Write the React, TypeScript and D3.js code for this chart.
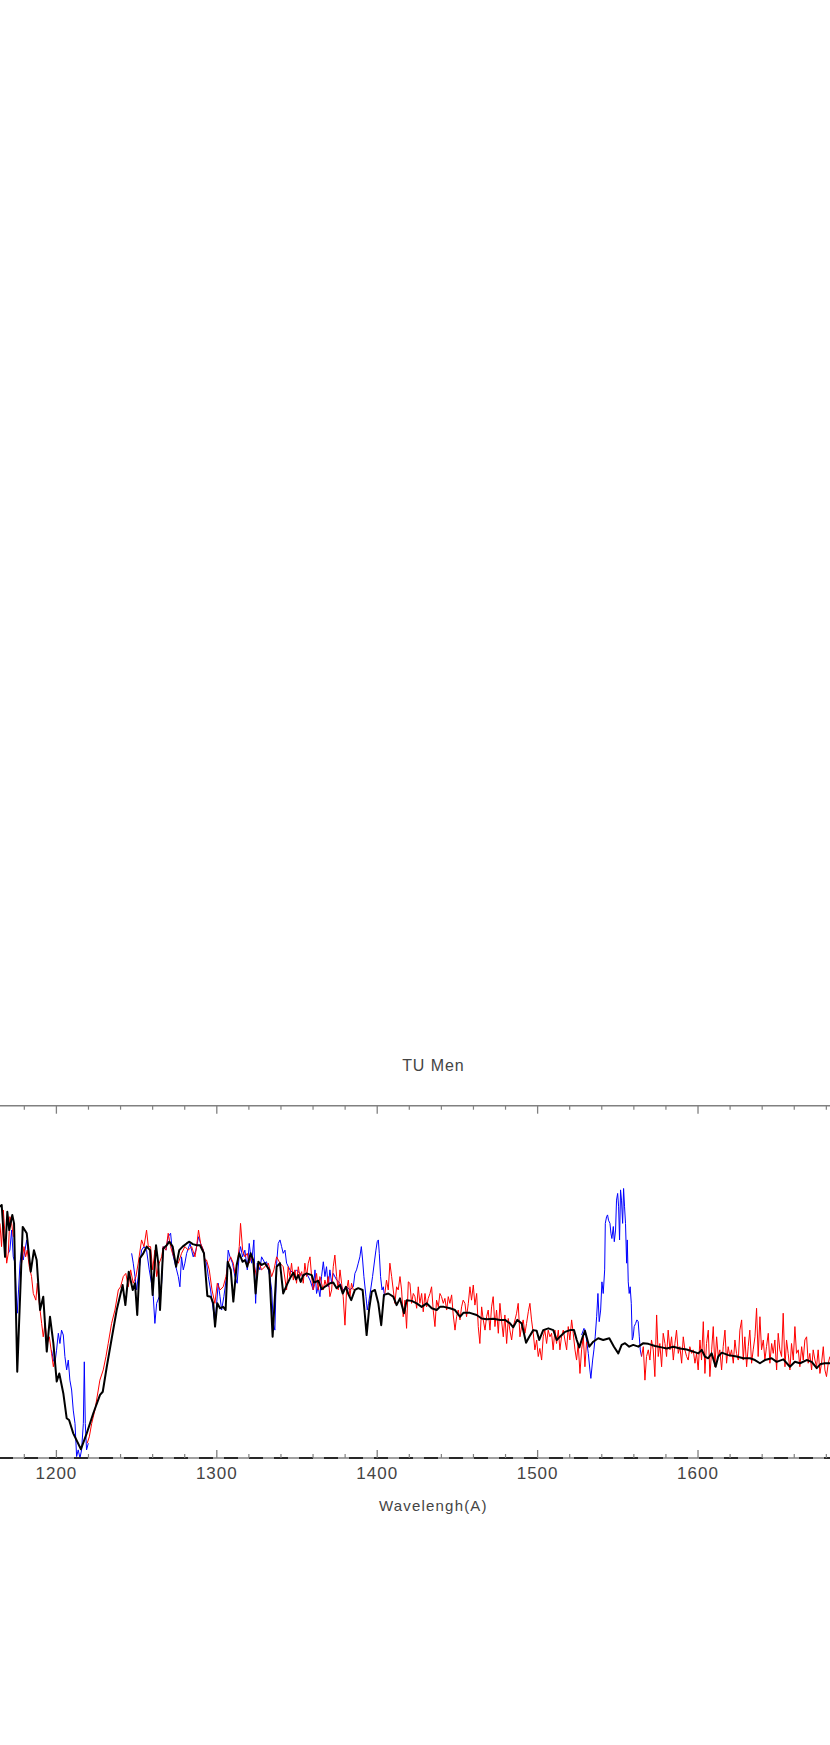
import React from "react";
import * as d3 from "d3";

// ---------- data (wavelength Å, flux in arbitrary units; plot y-range 0..10) ----------
const titleText = "TU Men";
const xTitle = "Wavelengh(A)";
const xDomain: [number, number] = [1150, 1720];
const yDomain: [number, number] = [0, 10];
const majorTickValues = [1200, 1300, 1400, 1500, 1600, 1700];
const tickLabels = [1200, 1300, 1400, 1500, 1600];

// smoothed model (black)
const modelSpectrum: [number, number][] = [
  [1164.8,7.13],[1165.9,7.18],[1168.0,5.71],[1169.4,6.99],[1170.6,6.47],[1172.5,6.90],[1173.6,6.66],[1175.6,2.45],[1179.0,6.56],[1181.5,6.38],[1184.0,5.29],[1186.0,5.90],[1187.7,5.62],[1189.8,4.20],[1191.8,4.58],[1194.0,3.02],[1196.0,4.01],[1198.1,3.26],[1200.2,2.17],[1201.8,2.40],[1204.3,1.84],[1206.4,1.13],[1207.9,1.08],[1210.5,0.70],[1215.3,0.25],[1218.9,0.70],[1223.0,1.27],[1227.2,1.79],[1228.9,1.88],[1231.4,2.59],[1234.5,3.40],[1237.6,4.20],[1241.3,4.91],[1243.0,4.34],[1245.1,5.29],[1247.6,4.77],[1249.0,4.96],[1250.4,4.06],[1252.1,5.67],[1254.2,5.81],[1256.3,6.00],[1258.4,5.90],[1260.0,4.63],[1262.1,6.04],[1263.5,5.53],[1264.6,4.20],[1266.6,5.95],[1268.8,6.04],[1270.4,6.14],[1272.5,6.00],[1274.6,5.43],[1276.6,5.90],[1278.7,6.00],[1281.2,6.09],[1282.9,6.14],[1285.0,6.07],[1287.5,6.04],[1289.5,6.04],[1292.0,5.81],[1294.1,4.60],[1296.2,4.58],[1297.8,4.39],[1298.9,3.73],[1300.3,4.39],[1302.0,4.25],[1304.0,4.29],[1305.5,4.20],[1306.8,5.57],[1308.7,5.34],[1310.3,4.44],[1312.4,5.48],[1314.0,5.81],[1316.1,5.57],[1317.6,5.62],[1319.0,5.43],[1321.1,5.81],[1322.7,5.62],[1324.2,4.67],[1325.9,5.57],[1328.0,5.48],[1330.0,5.53],[1332.7,5.34],[1334.8,3.44],[1337.3,5.43],
  [1339.4,5.53],[1341.4,4.67],[1343.6,4.91],[1345.6,5.10],[1347.7,5.26],[1349.4,5.07],[1350.8,5.19],[1352.3,5.00],[1353.9,5.19],[1356.0,5.24],[1359.2,5.19],[1360.6,4.98],[1363.3,5.03],[1365.4,4.79],[1367.4,4.86],[1370.6,4.96],[1372.6,4.98],[1374.7,4.82],[1376.8,4.91],[1378.5,4.67],[1380.5,4.86],[1382.0,4.65],[1383.8,4.48],[1386.1,4.77],[1388.2,4.82],[1390.9,4.77],[1392.4,4.01],[1393.4,3.49],[1394.9,4.20],[1396.6,4.72],[1398.6,4.77],[1400.7,4.39],[1402.5,3.77],[1404.2,4.63],[1406.9,4.67],[1410.0,4.58],[1412.1,4.34],[1414.2,4.53],[1416.7,4.11],[1418.4,4.48],[1421.5,4.46],[1424.6,4.39],[1427.7,4.29],[1430.8,4.39],[1434.0,4.25],[1437.1,4.20],[1439.1,4.29],[1441.6,4.29],[1445.4,4.25],[1448.5,4.20],[1451.6,4.01],[1453.7,4.12],[1457.8,4.12],[1462.0,4.06],[1465.1,3.96],[1468.3,3.94],[1472.4,3.95],[1476.5,3.92],[1479.7,3.92],[1482.8,3.82],[1484.8,3.71],[1487.3,3.92],[1490.1,3.82],[1492.8,3.27],[1494.8,3.44],[1497.3,3.63],[1499.4,3.61],[1501.0,3.35],[1503.5,3.63],[1506.7,3.68],
  [1509.8,3.63],[1511.9,3.35],[1513.9,3.44],[1517.1,3.58],[1520.2,3.63],[1522.7,3.63],[1524.4,3.35],[1526.0,3.14],[1528.1,3.44],[1529.5,3.61],[1532.2,3.16],[1534.7,3.30],[1537.8,3.40],[1540.9,3.35],[1544.7,3.40],[1547.6,3.16],[1550.3,2.97],[1552.4,3.21],[1554.5,3.26],[1557.1,3.16],[1559.6,3.21],[1562.8,3.16],[1565.9,3.26],[1569.0,3.24],[1573.2,3.18],[1577.3,3.14],[1580.5,3.11],[1584.6,3.16],[1588.8,3.11],[1592.9,3.08],[1597.0,3.02],[1600.2,2.97],[1602.3,3.07],[1604.3,2.88],[1606.4,2.83],[1608.5,2.97],[1611.0,2.59],[1612.6,2.88],[1614.8,2.99],[1618.9,2.92],[1624.1,2.88],[1628.2,2.83],[1632.4,2.83],[1635.5,2.78],[1638.6,2.69],[1641.7,2.78],[1645.9,2.83],[1649.0,2.73],[1653.2,2.80],[1657.3,2.59],[1660.4,2.73],[1663.6,2.69],[1667.7,2.78],[1670.9,2.73],[1674.0,2.55],[1676.5,2.67],[1679.1,2.69],[1682.3,2.69],
];

// observed spectrum (red); null marks a gap
const redSpectrum: [number, number | null][] = [
  [1164.8,6.66],[1165.8,6.00],[1166.9,7.04],[1167.9,6.38],[1169.0,5.53],[1170.0,5.81],[1171.0,6.85],[1172.1,6.66],[1173.1,6.28],[1175.0,null],
  [1177.7,5.34],[1178.9,5.71],[1179.8,6.00],[1180.8,5.71],[1181.8,5.90],[1183.1,5.43],[1184.5,5.15],[1185.6,4.67],[1187.2,4.48],[1188.1,4.96],[1189.3,4.39],[1190.8,3.82],[1191.8,3.44],[1192.9,3.82],[1194.3,3.25],[1195.6,3.44],[1197.0,2.97],[1198.1,2.59],[1199.1,2.88],[1210.0,null],
  [1219.2,0.42],[1220.5,0.60],[1222.0,0.98],[1224.0,1.36],[1226.1,1.93],[1227.1,2.21],[1229.2,2.50],[1230.9,2.88],[1232.3,3.25],[1234.4,3.82],[1236.5,4.20],[1238.6,4.77],[1240.0,4.86],[1241.7,5.15],[1243.3,5.24],[1244.8,4.86],[1246.3,5.34],[1247.9,4.96],[1249.6,5.15],[1251.0,5.53],[1253.1,6.19],[1254.6,6.00],[1256.2,6.47],[1257.3,6.00],[1258.7,6.00],[1260.0,5.34],[1261.4,5.90],[1262.5,5.15],[1264.1,5.53],[1265.6,5.71],[1266.6,6.00],[1268.3,5.90],[1269.7,6.38],[1271.2,6.00],[1272.4,5.81],[1273.9,5.62],[1276.0,5.53],[1278.0,5.81],[1280.1,6.00],[1282.2,5.90],[1284.3,6.00],[1286.4,5.71],[1287.4,6.00],[1288.6,6.47],[1289.9,6.09],[1291.6,5.90],[1292.6,5.62],
  [1293.6,5.62],[1295.3,5.34],[1297.0,4.77],[1298.8,4.39],[1300.3,4.96],[1302.0,4.77],[1304.0,4.86],[1305.7,5.15],[1307.1,5.53],[1308.6,5.71],[1310.3,5.53],[1311.3,5.24],[1312.8,5.53],[1314.0,6.00],[1314.8,6.66],[1316.1,5.90],[1317.5,5.71],[1319.0,5.81],[1320.2,5.53],[1321.7,5.71],[1323.1,5.53],[1324.8,5.15],[1326.5,5.53],[1327.9,5.34],[1330.0,5.43],[1332.1,5.53],[1334.2,5.15],[1335.6,5.34],[1337.3,5.71],[1339.4,5.53],[1341.4,5.43],
  [1343.5,4.77],[1344.5,5.43],[1345.6,5.15],[1346.6,5.53],[1347.7,5.05],[1348.7,5.34],[1349.7,4.96],[1350.8,5.43],[1351.8,5.15],[1352.9,5.29],[1353.9,4.96],[1354.9,5.53],[1356.0,5.15],[1357.0,5.53],[1358.1,5.71],[1359.1,5.15],[1360.1,4.77],[1361.2,4.96],[1362.2,5.24],[1363.2,4.77],[1364.3,5.15],[1365.3,4.96],[1366.4,4.77],[1367.4,5.05],[1368.4,4.86],[1369.5,5.15],[1370.5,4.58],[1371.6,4.77],[1372.6,5.43],[1373.6,5.76],[1374.7,5.15],[1375.7,4.77],[1376.8,5.34],[1377.8,4.96],[1378.8,4.58],[1379.9,3.77],[1380.9,4.77],[1382.0,5.05],[1383.0,4.58],[1384.0,4.96],[1385.1,4.77],[1395.0,null],
  [1404.8,4.67],[1405.8,5.05],[1406.9,4.77],[1407.9,5.53],[1409.0,5.15],[1410.0,4.77],[1411.0,4.39],[1412.1,4.86],[1413.1,4.77],
  [1414.2,5.15],[1415.2,4.77],[1416.2,4.01],[1417.3,4.48],[1418.3,3.68],[1419.4,5.00],[1420.4,4.96],[1421.4,4.39],[1422.5,4.67],[1423.5,4.58],[1424.6,4.25],[1425.6,4.86],[1426.6,4.39],[1427.7,4.67],[1428.7,4.15],[1429.8,4.67],[1430.8,4.29],[1431.8,4.53],[1432.9,4.67],[1433.9,4.86],[1434.9,4.20],[1436.0,3.73],[1437.0,4.48],[1438.1,4.29],[1439.1,4.67],[1440.1,4.58],[1441.2,4.39],[1442.2,4.53],[1443.3,4.20],[1444.3,4.58],[1445.3,4.39],[1446.4,4.63],[1447.4,4.06],[1448.5,3.63],[1449.5,4.01],[1450.5,4.20],[1451.6,3.92],[1452.6,4.29],[1453.6,4.48],[1454.7,4.39],[1455.7,4.01],[1456.8,4.39],[1457.8,4.86],[1458.8,4.48],[1459.9,4.91],[1460.9,4.34],[1462.0,4.67],[1463.0,3.73],[1464.0,3.25],[1465.1,4.29],[1466.1,3.92],[1467.2,3.63],[1468.2,4.01],[1469.2,4.20],[1470.3,3.63],[1471.3,4.29],[1472.3,4.58],[1473.4,3.73],[1474.4,4.20],[1475.5,3.54],[1476.5,4.39],[1477.5,3.92],[1478.6,3.44],[1479.6,4.06],[1480.7,3.25],[1481.7,3.96],[1482.7,3.63],[1483.8,3.35],[1484.8,3.73],[1485.9,3.92],[1486.9,4.11],[1487.9,4.39],[1489.0,3.44],[1490.0,3.73],[1491.0,3.92],[1492.1,3.54],[1493.1,3.82],[1494.2,4.15],[1495.2,4.39],[1496.2,3.92],[1497.3,3.54],[1498.3,3.07],[1499.4,3.35],[1500.4,2.88],[1501.4,3.11],[1502.5,2.78],[1503.5,3.44],[1504.5,3.63],[1505.6,3.25],[1506.6,3.63],[1507.7,3.44],[1508.7,3.54],[1509.7,3.07],[1510.8,3.63],[1511.8,3.25],[1512.9,3.63],[1513.9,3.07],[1514.9,3.44],[1516.0,3.63],[1517.0,3.35],[1518.1,3.07],[1519.1,3.73],[1520.1,3.35],[1521.2,3.92],[1522.2,3.54],[1523.3,3.07],[1524.3,2.78],[1525.3,3.25],[1526.4,2.40],[1527.4,3.07],[1528.5,3.44],[1529.5,2.59],[1530.5,3.30],[1545.0,null],
  [1564.8,2.88],[1565.9,3.16],[1566.9,2.21],[1567.9,2.88],[1569.0,3.07],[1570.0,2.78],[1571.0,3.35],[1572.1,3.07],[1573.1,2.31],[1574.2,4.06],[1575.2,2.88],[1576.2,3.25],[1577.3,2.59],[1578.3,3.54],[1579.4,3.25],[1580.4,2.88],[1581.4,3.63],[1582.5,3.07],[1583.5,3.44],[1584.6,2.78],[1585.6,3.25],[1586.6,3.63],[1587.7,2.97],[1588.7,3.16],[1589.8,2.69],[1590.8,3.44],[1591.8,3.07],[1592.9,2.88],[1593.9,2.78],[1594.9,3.16],[1596.0,2.97],[1597.0,3.07],[1598.1,2.69],[1599.1,2.97],[1600.1,2.50],[1601.2,3.35],[1602.2,2.78],[1603.3,3.87],[1604.3,2.40],[1605.3,3.25],[1606.4,3.63],[1607.4,2.31],[1608.5,3.07],[1609.5,3.73],[1610.5,2.59],[1611.6,3.44],[1612.6,2.88],[1613.6,3.07],[1614.7,2.50],[1615.7,3.16],[1616.8,3.63],[1617.8,2.69],[1618.8,3.16],[1619.9,2.88],[1620.9,3.07],[1622.0,2.69],[1623.0,3.35],[1624.0,2.97],[1625.1,2.78],[1626.1,3.63],[1627.2,3.92],[1628.2,2.78],[1629.2,3.44],[1630.3,2.59],[1631.3,3.16],[1632.3,3.63],[1633.4,2.69],[1634.4,3.07],[1635.5,3.44],[1636.5,4.25],[1637.5,2.88],[1638.6,4.01],[1639.6,3.07],[1640.7,3.35],[1641.7,2.78],[1642.7,3.16],[1643.8,3.54],[1644.8,2.69],[1645.9,3.25],[1646.9,2.97],[1647.9,3.35],[1649.0,2.50],[1650.0,3.54],[1651.0,3.07],[1652.1,2.88],[1653.1,4.11],[1654.2,2.59],[1655.2,3.35],[1656.2,2.97],[1657.3,2.50],[1658.3,3.25],[1659.4,2.78],[1660.4,3.73],[1661.4,2.97],[1662.5,3.07],[1663.5,2.59],[1664.6,3.16],[1665.6,2.78],[1666.6,3.35],[1667.7,3.44],[1668.7,2.69],[1669.7,2.97],[1670.8,2.50],[1671.8,3.07],[1672.9,2.78],[1673.9,2.59],[1674.9,3.07],[1676.0,2.40],[1677.0,2.69],[1678.1,3.16],[1679.1,2.50],[1680.1,2.31],[1681.2,2.69],[1682.2,2.88],
];

// second observed spectrum (blue); null marks a gap
const blueSpectrum: [number, number | null][] = [
  [1170.0,5.81],[1171.0,5.90],[1172.1,6.47],[1173.1,5.71],[1174.2,5.53],[1174.8,4.77],[1175.6,4.11],[1176.4,4.77],[1177.3,5.53],[1178.3,5.90],[1179.3,5.62],[1180.4,5.90],[1181.5,6.19],[1182.5,5.81],[1190.0,null],
  [1197.0,3.06],[1198.1,2.78],[1199.1,2.69],[1200.1,3.06],[1201.2,3.54],[1202.2,3.25],[1203.2,3.63],[1204.3,3.49],[1205.3,2.88],[1206.4,2.50],[1207.4,2.78],[1208.4,2.21],[1209.5,1.93],[1210.5,1.36],[1211.6,0.98],[1212.6,0.04],[1213.6,0.23],[1214.7,0.0],[1215.7,0.23],[1216.8,0.98],[1217.4,2.73],[1218.0,0.98],[1218.8,0.23],[1219.9,0.42],[1230.0,null],
  [1246.9,5.81],[1247.9,5.53],[1249.0,5.15],[1250.0,4.77],[1251.0,5.15],[1252.1,5.53],[1253.1,5.90],[1254.6,6.00],[1256.2,5.90],[1257.9,5.34],[1259.3,4.96],[1260.4,4.58],[1261.4,3.82],[1262.5,4.39],[1264.1,4.58],[1265.6,4.96],[1266.6,6.00],[1268.3,5.90],[1269.7,6.28],[1271.2,6.38],[1272.4,5.81],[1273.9,5.53],[1276.0,5.15],[1277.0,4.86],[1278.0,5.71],[1279.1,5.34],[1280.1,5.53],[1281.2,5.81],[1283.3,6.09],[1285.3,5.71],[1287.0,5.90],[1288.6,6.28],[1289.9,6.09],[1291.6,5.90],[1292.6,5.62],[1293.6,5.53],[1294.7,5.15],[1296.1,4.77],[1297.8,4.20],[1298.8,3.82],[1299.9,4.39],[1300.9,4.96],[1302.0,4.58],[1303.0,4.20],[1304.4,4.58],[1306.1,5.15],[1307.1,5.90],[1308.2,5.71],[1309.8,5.53],[1311.3,5.15],[1312.7,4.96],[1314.0,5.81],[1314.8,6.00],[1316.1,5.71],[1317.5,5.90],[1319.0,5.34],[1320.2,6.09],[1321.7,5.53],[1323.1,6.19],[1324.2,4.39],[1325.2,5.53],[1326.9,5.34],[1327.9,5.71],[1329.0,5.62],[1330.0,5.53],[1331.0,5.57],[1333.1,5.15],[1334.2,4.77],[1335.2,3.82],[1336.2,3.63],[1337.3,5.53],[1338.3,6.09],[1339.4,6.19],
  [1340.4,6.00],[1341.4,5.81],[1342.5,5.90],[1343.5,5.53],[1345.6,5.34],[1347.7,5.24],[1349.7,5.34],[1351.8,5.24],[1353.9,5.15],[1356.0,5.24],[1358.1,5.05],[1360.1,4.77],[1361.2,5.34],[1362.2,4.67],[1363.2,4.86],[1364.3,4.58],[1365.3,5.15],[1366.4,5.57],[1367.4,5.15],[1368.4,5.43],[1369.5,4.86],[1370.5,5.34],[1371.6,4.96],[1372.6,5.24],[1374.7,5.05],[1376.8,4.96],[1378.8,4.77],[1380.9,4.86],[1383.0,4.77],[1385.1,4.86],[1386.1,5.24],[1387.1,5.34],[1388.2,5.53],[1389.2,5.71],[1390.1,6.00],[1390.9,5.62],[1391.7,5.15],[1393.0,4.58],[1393.8,4.20],[1394.6,4.39],[1395.9,4.77],[1397.1,5.15],[1398.4,5.62],[1399.2,5.90],[1400.0,6.14],[1400.7,6.19],[1401.3,5.81],[1402.1,5.15],[1403.0,4.77],[1403.8,4.86],[1404.6,4.58],[1460.0,null],
  [1527.4,3.49],[1528.9,3.68],[1529.7,3.63],[1530.5,3.35],[1531.6,2.97],[1532.6,2.50],[1533.2,2.26],[1534.3,2.78],[1535.1,3.07],[1535.9,3.44],[1536.8,4.01],[1537.6,4.67],[1538.4,3.87],[1539.3,4.20],[1540.1,5.00],[1540.9,4.67],[1541.8,5.34],[1542.2,6.66],[1543.0,6.85],[1543.6,6.90],[1544.2,6.75],[1545.1,6.66],[1545.7,6.38],[1546.3,6.23],[1547.2,6.57],[1547.8,6.14],[1548.6,6.47],[1549.2,7.32],[1549.9,7.51],[1550.5,7.13],[1551.1,6.19],[1551.7,7.61],[1552.3,7.32],[1553.0,6.66],[1553.6,7.65],[1554.2,7.13],[1554.8,6.66],[1555.5,5.53],[1555.9,6.19],[1556.5,5.00],[1557.1,4.67],[1557.7,4.86],[1558.4,4.39],[1559.0,3.35],[1559.6,3.44],[1560.2,3.73],[1561.1,3.82],[1561.9,3.92],[1562.7,3.87],[1563.4,3.44],[1564.0,3.07],[1564.8,2.88],
];

// ---------- layout ----------
const W = 830;
const H = 1745;
const frame = { left: -23.8, right: 890.5, top: 1105.7, bottom: 1458 };
const axisColor = "#808080";
const textColor = "#444";
const font = "'Liberation Sans', Arial, sans-serif";

export default function App() {
  const x = d3.scaleLinear().domain(xDomain).range([frame.left, frame.right]);
  const y = d3.scaleLinear().domain(yDomain).range([frame.bottom, frame.top]);

  const line = d3
    .line<[number, number | null]>()
    .defined((d) => d[1] !== null)
    .x((d) => x(d[0]))
    .y((d) => y(d[1] as number));

  const minorTicks = d3.range(xDomain[0] + 10, xDomain[1], 20).filter((v) => v % 100 !== 0);
  const cx = (frame.left + frame.right) / 2;
  const majorLen = 8;
  const minorLen = 4;

  return (
    <svg
      width={W}
      height={H}
      style={{ position: "absolute", left: 0, top: 0, display: "block", background: "#fff" }}
    >
      <defs>
        <clipPath id="plotClip">
          <rect x={frame.left} y={frame.top} width={frame.right - frame.left} height={frame.bottom - frame.top} />
        </clipPath>
      </defs>
      <rect x={0} y={0} width={W} height={H} fill="#fff" />

      {/* title */}
      <text x={cx} y={1070.7} textAnchor="middle" fontFamily={font} fontSize={16} letterSpacing={0.9} fill={textColor}>
        {titleText}
      </text>

      {/* spectra */}
      <g clipPath="url(#plotClip)" fill="none" strokeLinejoin="round">
        <path d={line(blueSpectrum) || ""} stroke="#0000ff" strokeWidth={1} />
        <path d={line(redSpectrum) || ""} stroke="#ff0000" strokeWidth={1} />
        <path d={line(modelSpectrum as [number, number | null][]) || ""} stroke="#000" strokeWidth={2} />
      </g>

      {/* frame */}
      <line x1={frame.left} x2={frame.right} y1={frame.top} y2={frame.top} stroke={axisColor} strokeWidth={1.4} />
      <line x1={frame.left} x2={frame.right} y1={frame.bottom} y2={frame.bottom} stroke={axisColor} strokeWidth={1.4} />

      {/* zero level dashed */}
      <line
        x1={x(xDomain[0])}
        x2={x(xDomain[1])}
        y1={y(0)}
        y2={y(0)}
        stroke="#000"
        strokeWidth={1.6}
        strokeDasharray="14 11"
        strokeDashoffset={2.2}
      />

      {/* ticks */}
      {majorTickValues.map((v) => (
        <g key={"M" + v}>
          <line x1={x(v)} x2={x(v)} y1={frame.top} y2={frame.top + majorLen} stroke={axisColor} strokeWidth={1.3} />
          <line x1={x(v)} x2={x(v)} y1={frame.bottom} y2={frame.bottom - majorLen} stroke={axisColor} strokeWidth={1.3} />
        </g>
      ))}
      {tickLabels.map((v) => (
        <text key={"L" + v} x={x(v)} y={1479.3} textAnchor="middle" fontFamily={font} fontSize={17} letterSpacing={1} fill={textColor}>
          {v}
        </text>
      ))}
      {minorTicks.map((v) => (
        <g key={"m" + v}>
          <line x1={x(v)} x2={x(v)} y1={frame.top} y2={frame.top + minorLen} stroke={axisColor} strokeWidth={1.2} />
          <line x1={x(v)} x2={x(v)} y1={frame.bottom} y2={frame.bottom - minorLen} stroke={axisColor} strokeWidth={1.2} />
        </g>
      ))}

      {/* x title */}
      <text x={cx} y={1510.7} textAnchor="middle" fontFamily={font} fontSize={15} letterSpacing={1.2} fill={textColor}>
        {xTitle}
      </text>
    </svg>
  );
}
